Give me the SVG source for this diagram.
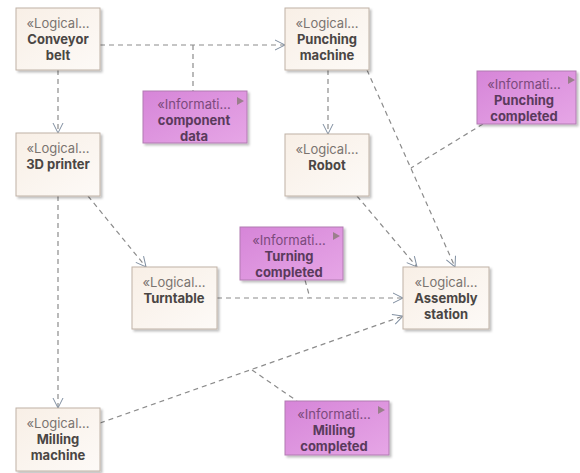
<svg xmlns="http://www.w3.org/2000/svg" width="580" height="473" viewBox="0 0 580 473">
<defs>
<linearGradient id="lg" x1="0" y1="0" x2="1" y2="1">
<stop offset="0" stop-color="#f8efe6"/>
<stop offset="1" stop-color="#fdfaf7"/>
</linearGradient>
<linearGradient id="ig" x1="0" y1="0" x2="1" y2="1">
<stop offset="0" stop-color="#d685d8"/>
<stop offset="1" stop-color="#e6a6e6"/>
</linearGradient>
<filter id="sh" x="-10%" y="-10%" width="130%" height="130%">
<feDropShadow dx="2" dy="2" stdDeviation="1" flood-color="#000" flood-opacity="0.25"/>
</filter>
<marker id="arr" viewBox="0 0 12 12" refX="11" refY="6" markerWidth="12" markerHeight="12" markerUnits="userSpaceOnUse" orient="auto">
<path d="M1,1 L11,6 L1,11" fill="none" stroke="#7f8ea0" stroke-width="1"/>
</marker>
</defs>
<style>
.st{font-family:Inter,"Open Sans",sans-serif;font-size:13px;fill:#7a7470;text-anchor:middle}
.nm{font-family:Inter,"Open Sans",sans-serif;font-size:13px;font-weight:bold;fill:#4a4644;text-anchor:middle}
.ist{font-family:Inter,"Open Sans",sans-serif;font-size:13px;fill:#7a4a7c;text-anchor:middle}
.inm{font-family:Inter,"Open Sans",sans-serif;font-size:13px;font-weight:bold;fill:#5a3a5c;text-anchor:middle}
.lb{fill:url(#lg);stroke:#bfb2a6;stroke-width:1;filter:url(#sh)}
.ib{fill:url(#ig);stroke:#b27ab2;stroke-width:1;filter:url(#sh)}
.fl{fill:#9a7f8c}
.c{fill:none;stroke:#8c8c8c;stroke-width:1.2;stroke-dasharray:5,4}
.ca{fill:none;stroke:#8c8c8c;stroke-width:1.2;stroke-dasharray:5,4;marker-end:url(#arr)}
</style>
<g id="connectors">
<path class="ca" d="M100,45 L285,45"/>
<path class="c" d="M193,45 L193,91"/>
<path class="ca" d="M58,70 L58,133"/>
<path class="ca" d="M328,70 L328,134"/>
<path class="ca" d="M367,70 L455,267"/>
<path class="c" d="M483,124 L411,168"/>
<path class="ca" d="M357,196 L417,267"/>
<path class="ca" d="M58,196 L58,408"/>
<path class="ca" d="M88,196 L146,267"/>
<path class="ca" d="M217,298 L403,298"/>
<path class="c" d="M305,280 L310,298"/>
<path class="ca" d="M100,423 L403,316"/>
<path class="c" d="M252,370 L297,401"/>
</g>
<g id="conveyor-belt">
<rect class="lb" x="16" y="8" width="84" height="62"/>
<text class="st" x="58" y="28">«Logical...</text>
<text class="nm" x="58" y="44">Conveyor</text>
<text class="nm" x="58" y="60">belt</text>
</g>
<g id="punching-machine">
<rect class="lb" x="285" y="8" width="84" height="62"/>
<text class="st" x="327" y="28">«Logical...</text>
<text class="nm" x="327" y="44">Punching</text>
<text class="nm" x="327" y="60">machine</text>
</g>
<g id="component-data">
<rect class="ib" x="143" y="91" width="104" height="52"/>
<text class="ist" x="194" y="109">«Informati...</text>
<text class="inm" x="194" y="125">component</text>
<text class="inm" x="194" y="141">data</text>
<path class="fl" d="M237,97 L244,101 L237,105 Z"/>
</g>
<g id="punching-completed">
<rect class="ib" x="477" y="71" width="99" height="53"/>
<text class="ist" x="524" y="89">«Informati...</text>
<text class="inm" x="524" y="105">Punching</text>
<text class="inm" x="524" y="121">completed</text>
<path class="fl" d="M568,76 L575,80 L568,84 Z"/>
</g>
<g id="printer-3d">
<rect class="lb" x="16" y="133" width="84" height="63"/>
<text class="st" x="58" y="153">«Logical...</text>
<text class="nm" x="58" y="169">3D printer</text>
</g>
<g id="robot">
<rect class="lb" x="285" y="134" width="84" height="62"/>
<text class="st" x="327" y="154">«Logical...</text>
<text class="nm" x="327" y="170">Robot</text>
</g>
<g id="turning-completed">
<rect class="ib" x="240" y="227" width="103" height="53"/>
<text class="ist" x="289" y="245">«Informati...</text>
<text class="inm" x="289" y="261">Turning</text>
<text class="inm" x="289" y="277">completed</text>
<path class="fl" d="M333,232 L340,236 L333,240 Z"/>
</g>
<g id="turntable">
<rect class="lb" x="132" y="267" width="85" height="62"/>
<text class="st" x="174" y="287">«Logical...</text>
<text class="nm" x="174" y="303">Turntable</text>
</g>
<g id="assembly-station">
<rect class="lb" x="403" y="267" width="86" height="62"/>
<text class="st" x="446" y="287">«Logical...</text>
<text class="nm" x="446" y="303">Assembly</text>
<text class="nm" x="446" y="319">station</text>
</g>
<g id="milling-machine">
<rect class="lb" x="16" y="408" width="84" height="63"/>
<text class="st" x="58" y="428">«Logical...</text>
<text class="nm" x="58" y="444">Milling</text>
<text class="nm" x="58" y="460">machine</text>
</g>
<g id="milling-completed">
<rect class="ib" x="285" y="401" width="104" height="54"/>
<text class="ist" x="334" y="419">«Informati...</text>
<text class="inm" x="334" y="435">Milling</text>
<text class="inm" x="334" y="451">completed</text>
<path class="fl" d="M378,406 L385,410 L378,414 Z"/>
</g>
</svg>
